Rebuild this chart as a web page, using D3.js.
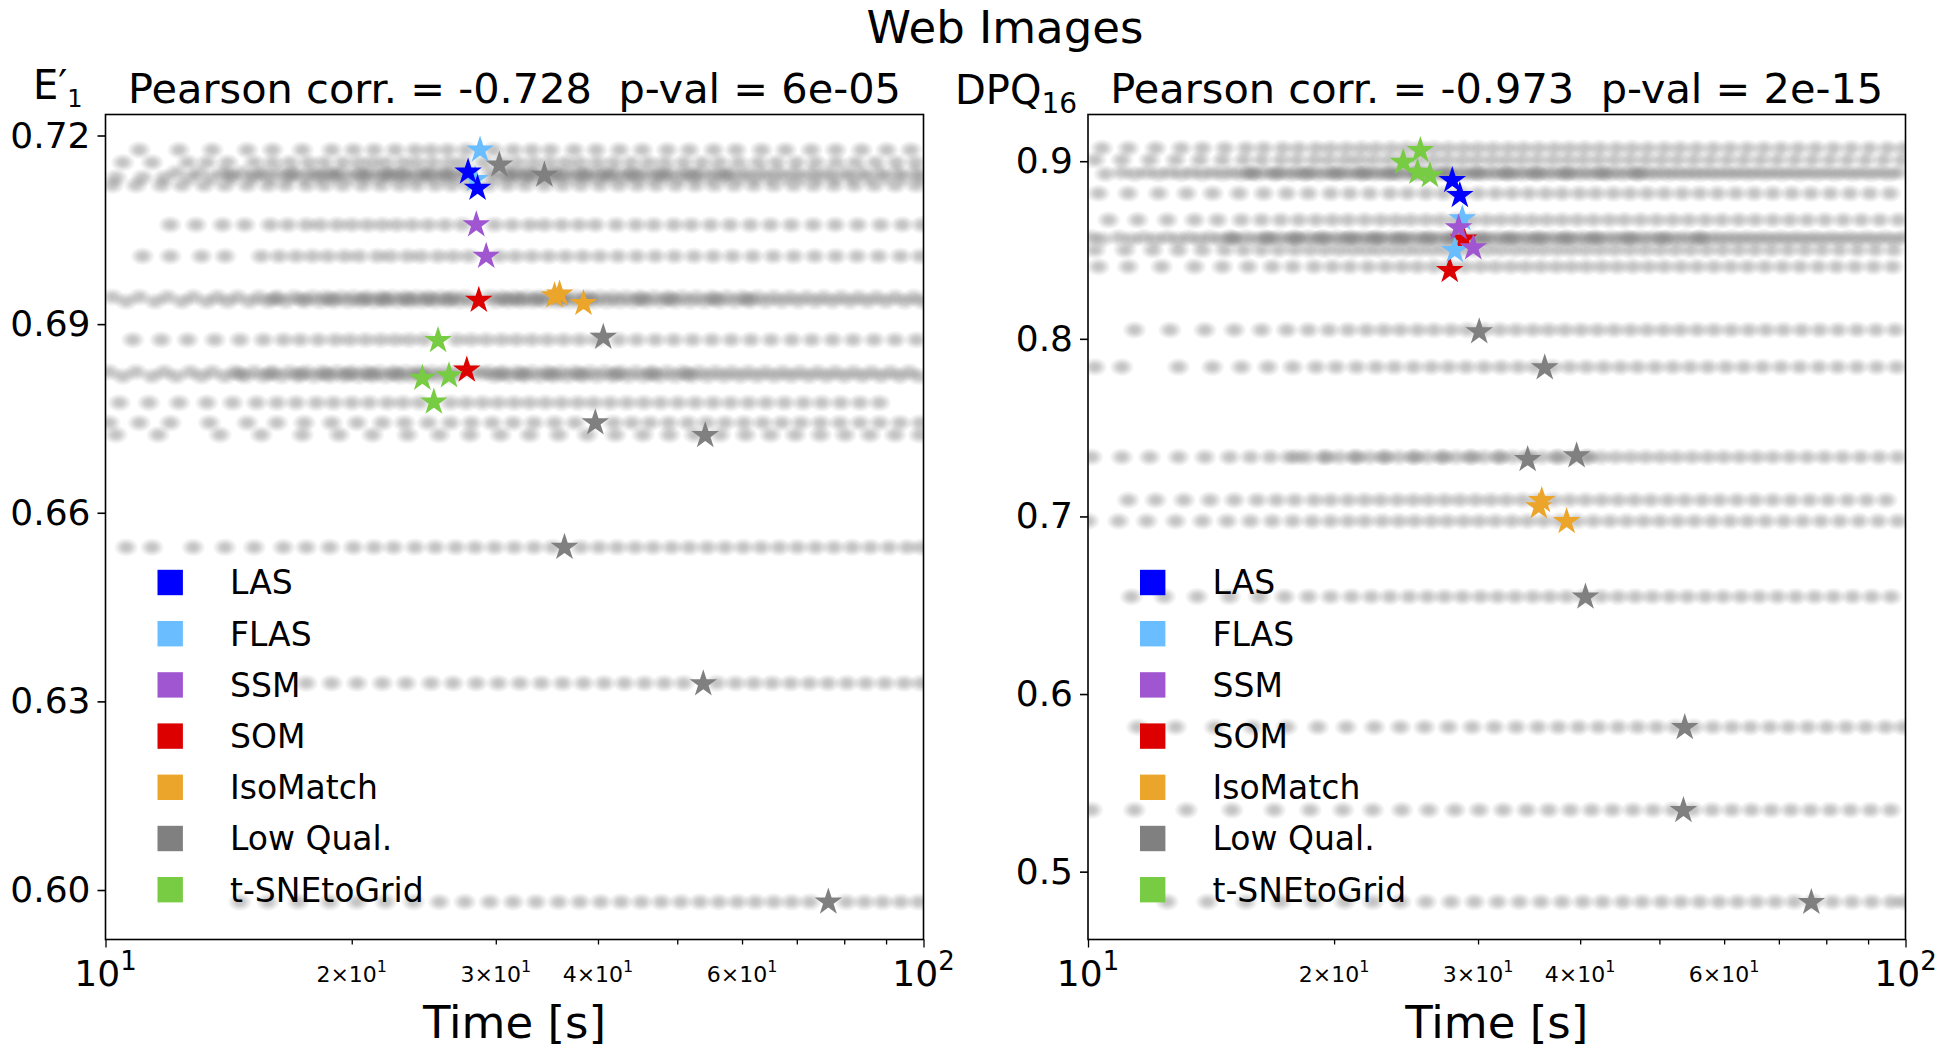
<!DOCTYPE html>
<html><head><meta charset="utf-8">
<script src="https://cdn.jsdelivr.net/npm/d3@7"></script>
<style>
body{margin:0;background:#fff}
svg{display:block}
text{font-family:"DejaVu Sans",sans-serif;fill:#000}
</style>
</head><body>
<svg id="chart" width="1945" height="1053"></svg>
<script>
// ---------------- DATA ----------------
const figureTitle = "Web Images";
const methods = ["LAS","FLAS","SSM","SOM","IsoMatch","Low Qual.","t-SNEtoGrid"];
const methodColors = ["#0000ff","#6abeff","#a056d0","#dd0000","#eba52a","#808080","#78cc44"];
const drawOrder = ["Low Qual.","IsoMatch","SOM","FLAS","SSM","LAS","t-SNEtoGrid"];

const xDomain = [10, 100];
const xTicks = [10,20,30,40,50,60,70,80,90,100];
const xMajorLabels = {10:["10","1"], 100:["10","2"]};
const xMinorLabels = {20:["2\u00d710","1"], 30:["3\u00d710","1"], 40:["4\u00d710","1"], 60:["6\u00d710","1"]};
const xLabel = "Time [s]";

// left panel (E'_1)
const leftTitle = "Pearson corr. = -0.728  p-val = 6e-05";
const leftYDomain = [0.59213, 0.72334];
const leftYTicks = [0.60, 0.63, 0.66, 0.69, 0.72];
const leftYTickLabels = ["0.60","0.63","0.66","0.69","0.72"];
const leftRowValues = [0.7177,0.7157,0.7141,0.7133,0.7121,0.7058,0.7008,0.6943,0.6936,0.6875,0.6824,0.6817,0.6775,0.6743,0.6724,0.6545,0.6329,0.5981,
                       0.7138,0.6940,0.6821];
const leftRowTimes = [
"11.0 12.3 13.5 14.9 16.0 17.4 18.9 20.1 21.3 22.6 23.9 25.0 26.2 27.6 29.8 31.5 33.2 35.0 37.4 39.8 42.5 45.3 48.6 51.7 55.4 59.0 63.4 67.8 72.9 78.1 84.0 90.2 96.5",
"10.5 11.4 12.6 13.3 14.1 15.2 16.0 16.8 17.7 18.5 19.5 20.4 21.2 22.0 23.1 24.0 25.1 26.3 27.3 29.0 30.6 31.9 33.4 34.9 36.5 38.0 39.9 41.8 43.9 46.1 48.3 50.9 53.6 56.3 59.4 62.8 66.1 69.9 73.8 78.2 82.6 87.4 92.6 97.8",
"12.2 13.0 13.9 14.7 15.6 16.3 17.0 17.8 18.7 19.4 20.3 21.0 21.8 22.5 23.3 24.2 25.0 25.9 26.8 27.7 29.6 30.8 31.7 32.8 33.9 35.1 36.3 37.6 38.9 40.4 41.9 43.6 45.3 47.2 49.0 51.1 53.3 55.6 58.1 60.7 63.5 66.4 69.6 73.1 76.4 80.3 84.1 88.5 93.0 97.9",
"10.3 11.1 11.8 12.7 13.5 14.3 15.1 15.9 16.7 17.5 18.3 19.1 19.9 20.8 21.6 22.4 23.3 24.1 25.0 26.0 27.0 30.1 31.2 32.4 33.5 34.7 36.0 37.3 38.7 40.1 41.6 43.2 44.9 46.7 48.5 50.5 52.6 54.8 57.2 59.6 62.1 64.9 67.9 71.0 74.4 77.9 81.7 85.6 89.9 94.5 99.2",
"10.2 10.9 11.7 12.4 13.2 14.0 14.9 15.8 16.6 17.6 18.5 19.5 20.6 21.7 22.9 24.0 25.3 26.5 27.8 29.4 31.0 32.6 34.4 36.2 38.1 40.2 42.4 44.7 47.1 49.8 52.6 55.5 58.7 62.0 65.6 69.4 73.4 77.7 82.3 87.1 92.4 97.9",
"12.0 12.9 13.9 14.8 15.9 16.7 17.6 18.3 19.2 20.0 20.9 21.8 22.7 23.7 24.8 26.0 27.3 29.9 31.4 33.0 34.4 36.1 37.9 39.7 42.1 44.5 46.8 49.5 52.0 54.9 58.0 61.4 65.0 68.9 73.3 78.0 83.1 88.6 94.2 99.5",
"11.1 12.0 13.1 14.0 15.5 16.3 17.1 17.9 18.7 19.6 20.4 21.5 22.3 23.4 24.3 25.5 26.6 27.8 30.3 31.7 33.2 34.8 36.5 38.3 40.2 42.3 44.6 47.0 49.6 52.4 55.3 58.4 61.8 65.5 69.4 73.6 78.1 82.9 88.1 93.7 99.0",
"10.2 11.0 11.9 12.8 13.7 14.5 15.4 16.2 17.0 17.9 18.6 19.4 20.1 20.9 21.7 22.4 23.2 24.0 24.8 25.7 26.6 27.5 29.5 30.5 31.6 32.7 33.9 35.0 36.2 37.5 38.8 40.2 41.7 43.3 45.0 46.8 48.7 50.7 52.8 55.1 57.5 60.0 62.7 65.6 68.7 72.0 75.5 79.3 83.3 87.6 92.3 97.3",
"10.6 11.5 12.4 13.3 14.1 15.0 15.8 16.6 17.5 18.3 19.0 19.8 20.5 21.3 22.0 22.8 23.6 24.4 25.3 26.2 27.1 28.1 30.0 31.1 32.2 33.3 34.5 35.7 36.9 38.2 39.5 41.0 42.5 44.2 45.9 47.8 49.7 51.8 54.0 56.3 58.8 61.3 64.1 67.1 70.3 73.8 77.4 81.3 85.4 89.9 94.8 99.6",
"10.8 11.7 12.6 13.6 14.6 15.6 16.5 17.3 18.2 19.1 19.9 20.8 21.7 22.6 23.5 24.5 26.9 28.0 29.2 30.5 31.8 33.2 34.7 36.3 38.0 39.8 42.4 44.6 47.0 49.5 52.2 55.1 58.2 61.5 65.1 69.0 73.0 77.4 82.0 87.0 92.3 98.0",
"10.1 10.9 11.8 12.7 13.5 14.4 15.2 16.0 16.8 17.6 18.4 19.2 20.0 20.8 21.6 22.5 23.3 24.1 25.0 26.0 27.0 28.2 29.4 30.6 31.9 33.2 34.6 36.0 37.5 39.1 40.8 42.6 44.5 46.5 48.6 50.8 53.2 55.7 58.3 61.1 64.1 67.3 70.6 74.2 78.0 82.1 86.4 91.1 96.0",
"10.5 11.4 12.2 13.1 14.0 14.8 15.6 16.4 17.2 18.0 18.8 19.6 20.4 21.2 22.0 22.9 23.7 24.6 25.5 26.5 29.9 31.2 32.5 33.9 35.3 36.7 38.3 39.9 41.7 43.5 45.5 47.5 49.7 52.0 54.4 57.0 59.7 62.6 65.7 68.9 72.4 76.1 80.0 84.2 88.7 93.5 98.6",
"10.4 11.3 12.3 13.3 14.3 15.3 16.2 17.1 18.1 19.0 20.0 21.0 22.1 23.1 24.2 26.4 27.6 28.9 30.2 31.6 33.0 34.5 36.1 37.8 39.5 41.4 43.4 45.5 47.7 50.1 52.6 55.3 58.1 61.1 64.2 67.6 71.3 75.1 79.2 83.6 88.3",
"10.1 11.0 12.0 13.4 14.9 16.2 17.5 18.9 20.3 21.8 23.2 24.8 26.4 28.0 29.7 31.5 33.4 35.4 37.5 41.8 44.0 46.3 48.8 51.5 54.3 57.2 60.3 63.6 67.1 70.8 74.8 79.0 83.6 88.4 93.6 99.0",
"10.3 11.6 13.8 15.5 17.4 19.3 21.2 23.4 25.6 27.9 30.4 33.0 35.8 38.8 42.0 45.4 48.9 52.5 56.4 60.6 65.0 69.7 74.8 80.2 86.0 92.3 98.9",
"10.6 11.4 12.8 14.0 15.2 16.5 17.6 18.8 20.1 21.3 22.5 23.9 25.3 26.8 28.3 29.9 31.6 33.4 35.2 38.1 40.1 42.2 44.4 46.7 49.2 51.7 54.4 57.2 60.2 63.3 66.6 70.1 73.8 77.7 81.8 86.1 90.7 95.5 99.5",
"17.6 18.9 20.3 21.8 23.3 25.0 26.6 28.4 30.2 32.1 34.1 36.2 38.4 40.7 43.1 45.6 48.2 50.9 55.9 58.9 62.0 65.3 68.8 72.5 76.4 80.6 85.0 89.7 94.7 99.3",
"14.6 15.8 17.2 18.8 20.3 22.0 23.8 25.6 27.5 29.5 31.5 33.6 35.8 38.0 40.3 42.7 45.2 47.8 50.5 53.3 56.2 59.2 62.3 65.6 69.0 72.6 80.5 84.7 89.1 93.8 98.6",
"14.2 15.3 16.9 18.2 19.0 20.6 22.1 23.0 24.7 26.1 31.4 32.9 35.6 38.4 41.0 44.1 47.9 52.1 57.0",
"16.1 17.4 18.9 20.7 21.9 23.4 24.9 26.3 30.8 32.0 33.7 36.1 38.9 45.2 49.0 55.6 61.0",
"14.6 15.9 17.3 18.6 19.8 21.1 22.6 24.3 28.9 30.4 32.3 35.0 38.0 42.1 46.6 51.5"
];
// [method, time (s), value]
const leftStars = [
["LAS",27.75,0.7142],["LAS",28.5,0.7116],
["FLAS",28.7,0.7177],["FLAS",28.3,0.7130],
["SSM",28.4,0.7058],["SSM",29.2,0.7008],
["SOM",28.6,0.6938],["SOM",27.65,0.6827],
["IsoMatch",35.4,0.6945],["IsoMatch",35.9,0.6948],["IsoMatch",38.4,0.6933],
["Low Qual.",30.3,0.7153],["Low Qual.",34.4,0.7137],["Low Qual.",40.6,0.6879],["Low Qual.",39.7,0.6743],
["Low Qual.",54.1,0.6723],["Low Qual.",36.4,0.6545],["Low Qual.",53.8,0.6328],["Low Qual.",76.5,0.5981],
["t-SNEtoGrid",25.5,0.6874],["t-SNEtoGrid",24.4,0.6814],["t-SNEtoGrid",26.3,0.6818],["t-SNEtoGrid",25.2,0.6776]
];

// right panel (DPQ_16)
const rightTitle = "Pearson corr. = -0.973  p-val = 2e-15";
const rightYDomain = [0.4618, 0.9263];
const rightYTicks = [0.5, 0.6, 0.7, 0.8, 0.9];
const rightYTickLabels = ["0.5","0.6","0.7","0.8","0.9"];
const rightRowValues = [0.9073,0.9007,0.8936,0.8928,0.8819,0.8669,0.8570,0.8561,0.8500,0.8406,0.8050,0.7841,0.7334,0.7092,0.6974,0.6548,0.5814,0.5347,0.4830,
                        0.8566,0.8932,0.7334];
const rightRowTimes = [
"10.4 11.2 12.1 13.0 13.8 14.7 15.6 16.4 17.3 18.1 19.0 19.8 20.7 21.6 22.5 23.5 24.5 25.5 26.5 27.6 28.8 30.0 31.3 32.7 34.1 35.6 37.2 38.8 40.5 42.3 44.3 46.3 48.4 50.7 53.0 55.5 58.2 61.0 64.0 67.1 70.4 73.9 77.6 81.6 85.8 90.3 95.0 99.5",
"10.2 11.0 11.9 12.8 13.7 14.6 15.5 16.3 17.2 18.0 18.9 19.7 20.6 21.4 22.3 23.3 24.3 25.3 26.4 27.5 28.7 29.9 31.2 32.5 33.9 35.4 37.0 38.6 40.3 42.1 44.0 46.0 48.1 50.3 52.6 55.1 57.7 60.5 63.4 66.5 69.7 73.2 76.9 80.8 84.9 89.3 94.0 98.9",
"11.0 11.8 12.6 13.4 14.2 15.0 15.8 16.5 17.3 18.0 18.8 19.6 20.4 21.2 22.0 22.8 23.7 24.6 25.5 26.5 27.5 28.6 29.7 30.9 32.1 33.4 34.7 36.1 37.6 39.1 40.7 42.4 44.2 46.1 48.1 50.2 52.4 54.8 57.3 60.0 62.8 65.8 69.0 72.4 76.0 79.9 84.0 88.4 93.1 98.0",
"10.5 11.4 12.2 13.0 13.8 14.6 15.4 16.1 16.9 17.7 18.4 19.2 20.0 20.8 21.6 22.4 23.2 24.1 25.0 26.0 27.0 28.0 29.1 30.3 31.5 32.7 34.0 35.4 36.8 38.3 39.9 41.5 43.3 45.1 47.1 49.1 51.3 53.6 56.0 58.6 61.4 64.3 67.4 70.7 74.2 77.9 81.9 86.2 90.7 95.5",
"10.3 11.2 12.2 13.2 14.2 15.3 16.4 17.5 18.6 19.8 20.9 22.1 23.4 24.6 25.9 27.2 28.6 30.0 31.5 33.0 34.6 36.3 38.0 39.9 41.8 43.9 46.0 48.3 50.7 53.3 56.0 58.9 62.0 65.3 68.8 72.6 76.6 80.9 85.5 90.4 95.7",
"10.6 11.5 12.5 13.5 14.4 15.4 16.3 17.2 18.1 19.0 19.9 20.8 21.8 22.8 23.8 24.8 25.9 27.0 28.2 29.4 30.7 32.0 33.4 34.9 36.4 38.0 39.7 41.5 43.4 45.3 47.4 49.6 51.9 54.3 56.9 59.6 62.5 65.5 68.8 72.2 75.8 79.7 83.9 88.3 93.0 98.0",
"10.1 10.9 11.7 12.5 13.3 14.1 14.9 15.6 16.4 17.1 17.9 18.6 19.4 20.2 21.0 21.8 22.6 23.5 24.4 25.3 26.3 27.3 28.3 29.4 30.6 31.8 33.0 34.3 35.7 37.1 38.6 40.2 41.8 43.6 45.4 47.3 49.3 51.5 53.7 56.1 58.6 61.3 64.1 67.1 70.3 73.7 77.3 81.2 85.3 89.7 94.4 99.4",
"10.4 11.3 12.1 12.9 13.7 14.5 15.2 16.0 16.7 17.5 18.2 19.0 19.8 20.6 21.4 22.2 23.0 23.9 24.8 25.8 26.8 27.8 28.9 30.0 31.2 32.4 33.7 35.0 36.4 37.9 39.4 41.0 42.7 44.5 46.4 48.3 50.4 52.6 54.9 57.3 59.9 62.7 65.6 68.7 72.0 75.5 79.2 83.2 87.5 92.0 96.9",
"10.2 11.1 12.0 12.9 13.8 14.7 15.5 16.3 17.1 17.9 18.7 19.5 20.3 21.1 21.9 22.7 23.6 24.5 25.4 26.4 27.4 28.5 29.6 30.8 32.0 33.3 34.6 36.0 37.5 39.0 40.6 42.3 44.1 46.0 48.0 50.1 52.3 54.6 57.1 59.7 62.5 65.4 68.5 71.8 75.3 79.0 83.0 87.3 91.8 96.7",
"10.3 11.2 12.3 13.5 14.6 15.7 16.8 17.8 18.9 19.9 20.9 22.0 23.1 24.2 25.3 26.5 27.7 28.9 30.2 31.5 32.9 34.3 35.8 37.4 39.0 40.7 42.5 44.4 46.4 48.5 50.7 53.1 55.6 58.3 61.1 64.1 67.3 70.7 74.3 78.2 82.3 86.7 91.4 96.4",
"11.4 12.6 13.9 15.1 16.3 17.5 18.6 19.7 20.8 21.9 23.0 24.1 25.3 26.5 27.8 29.1 30.5 31.9 33.4 35.0 36.6 38.3 40.1 42.0 44.0 46.1 48.3 50.6 53.0 55.6 58.3 61.2 64.3 67.5 70.9 74.6 78.5 82.7 87.2 92.0 97.1",
"10.2 11.0 12.9 14.2 15.4 16.6 17.8 19.0 20.1 21.3 22.5 23.7 25.0 26.3 27.6 29.0 30.5 32.0 33.6 35.2 37.0 38.8 40.7 42.7 44.8 47.0 49.4 51.9 54.5 57.3 60.3 63.4 66.8 70.4 74.2 78.3 82.6 87.2 92.2 97.5",
"10.1 11.0 11.9 12.9 13.9 14.9 15.8 16.7 17.6 18.5 19.4 20.3 21.2 22.1 23.0 24.0 25.0 26.0 27.1 28.2 29.3 30.5 31.8 33.1 34.5 35.9 37.4 39.0 40.7 42.4 44.2 46.1 48.1 50.2 52.4 54.8 57.3 59.9 62.7 65.7 68.8 72.2 75.8 79.6 83.7 88.1 92.8 97.8",
"11.2 12.1 13.1 14.1 15.1 16.1 17.0 17.9 18.9 19.8 20.8 21.8 22.8 23.9 25.0 26.1 27.3 28.5 29.8 31.1 32.5 34.0 35.5 37.1 38.8 40.6 42.5 44.5 46.6 48.8 51.2 53.7 56.4 59.2 62.2 65.4 68.8 72.4 76.3 80.4 84.9 89.6 94.7",
"10.0 10.9 11.8 12.8 13.8 14.8 15.8 16.8 17.8 18.8 19.8 20.8 21.8 22.9 24.0 25.1 26.3 27.5 28.8 30.1 31.5 33.0 34.5 36.1 37.8 39.6 41.5 43.5 45.6 47.8 50.1 52.6 55.2 58.0 61.0 64.1 67.4 71.0 74.8 78.8 83.1 87.7 92.6 97.8",
"11.3 12.4 13.6 14.9 16.2 17.4 18.6 19.8 21.0 22.2 23.4 24.7 26.0 27.3 28.7 30.2 31.7 33.3 35.0 36.7 38.5 40.4 42.4 44.5 46.7 49.0 51.5 54.1 56.9 59.8 62.9 66.2 69.7 73.4 77.4 81.6 86.1 90.9 96.0",
"11.5 12.8 14.3 15.9 17.5 19.1 20.7 22.4 24.1 25.8 27.6 29.5 31.4 33.4 35.5 37.6 39.8 42.1 44.5 47.0 49.6 52.3 55.1 58.1 61.3 64.6 68.2 71.9 75.9 80.1 84.6 89.4 94.5 99.3",
"10.1 11.4 13.2 15.0 16.9 18.7 20.5 22.3 24.2 26.1 28.1 30.1 32.2 34.4 36.6 38.9 41.3 43.8 46.4 49.1 51.9 54.9 58.0 61.3 64.8 68.5 72.4 76.5 80.9 85.6 90.6 95.9",
"12.5 14.0 15.6 17.2 18.9 20.6 22.3 24.1 25.9 27.8 29.7 31.7 33.7 35.8 38.0 40.3 42.6 45.1 47.6 50.3 53.1 56.0 59.1 62.3 65.7 69.3 73.1 77.1 81.4 86.0 90.9 96.1 99.6",
"15.0 16.6 17.9 19.3 20.9 22.5 24.1 26.0 27.9 30.3 32.8 35.5 38.4 41.7 45.9 50.5 56.0",
"15.8 17.0 18.5 20.1 21.7 23.5 25.3 27.4 29.9 32.6 35.3 38.5 42.6 47.0",
"18.0 19.6 21.3 23.1 25.1 27.2 29.5 31.9 34.6 37.6 40.9"
];
const rightStars = [
["LAS",27.9,0.8891],["LAS",28.5,0.8807],
["FLAS",28.7,0.8676],["FLAS",28.1,0.8497],
["SSM",28.4,0.8625],["SSM",29.6,0.8513],
["SOM",28.8,0.8562],["SOM",27.7,0.8385],
["IsoMatch",35.9,0.7090],["IsoMatch",35.6,0.7055],["IsoMatch",38.5,0.6971],
["Low Qual.",30.1,0.8040],["Low Qual.",36.2,0.7837],["Low Qual.",34.5,0.7320],["Low Qual.",39.6,0.7342],
["Low Qual.",40.6,0.6546],["Low Qual.",53.7,0.5812],["Low Qual.",53.5,0.5344],["Low Qual.",76.7,0.4827],
["t-SNEtoGrid",24.3,0.8994],["t-SNEtoGrid",25.5,0.9060],["t-SNEtoGrid",25.3,0.8938],["t-SNEtoGrid",26.2,0.8920]
];

// ---------------- DRAWING ----------------
const svg = d3.select("#chart");
const color = d3.scaleOrdinal().domain(methods).range(methodColors);
const defs = svg.append("defs");
// soft-edged dot (blurred look) via radial gradient
const grad = defs.append("radialGradient").attr("id","softDot");
[[0,0.46],[0.35,0.38],[0.7,0.16],[1,0]].forEach(([o,a])=>
  grad.append("stop").attr("offset",o).attr("stop-color","#787878").attr("stop-opacity",a));

function starPath(R){
  const r = R*0.381966, pts=[];
  for(let i=0;i<10;i++){
    const a = -Math.PI/2 + i*Math.PI/5, rr = i%2===0?R:r;
    pts.push([rr*Math.cos(a), rr*Math.sin(a)]);
  }
  return "M"+pts.map(p=>p[0].toFixed(2)+","+p[1].toFixed(2)).join("L")+"Z";
}
const STAR = starPath(14.5);

svg.append("text").attr("x",1005).attr("y",43).attr("text-anchor","middle")
  .attr("font-size",45).text(figureTitle);

const panels = [
  {id:"L", x0:105.5, x1:923.5, title:leftTitle, yDomain:leftYDomain, yTicks:leftYTicks, yTickLabels:leftYTickLabels,
   rowValues:leftRowValues, rowTimes:leftRowTimes, stars:leftStars, ylab:"E"},
  {id:"R", x0:1088, x1:1905.5, title:rightTitle, yDomain:rightYDomain, yTicks:rightYTicks, yTickLabels:rightYTickLabels,
   rowValues:rightRowValues, rowTimes:rightRowTimes, stars:rightStars, ylab:"DPQ"}
];
const Y0 = 114.5, Y1 = 939.5;

panels.forEach(p=>{
  const x = d3.scaleLog().domain(xDomain).range([p.x0,p.x1]);
  const y = d3.scaleLinear().domain(p.yDomain).range([Y1,Y0]);
  const g = svg.append("g");
  const clipId = "clip"+p.id;
  defs.append("clipPath").attr("id",clipId).append("rect")
    .attr("x",p.x0).attr("y",Y0).attr("width",p.x1-p.x0).attr("height",Y1-Y0);

  // background runs (soft translucent dots)
  const dots = [];
  p.rowValues.forEach((v,i)=>{
    p.rowTimes[i].trim().split(/\s+/).map(Number).forEach(t=>dots.push([t,v]));
  });
  g.append("g").attr("clip-path",`url(#${clipId})`)
   .selectAll("ellipse").data(dots).join("ellipse")
    .attr("cx",d=>x(d[0])).attr("cy",d=>y(d[1])).attr("rx",12.5).attr("ry",9.5)
    .attr("fill","url(#softDot)");

  // stars
  const stars = p.stars.slice().sort((a,b)=>drawOrder.indexOf(a[0])-drawOrder.indexOf(b[0]));
  g.append("g").selectAll("path").data(stars).join("path")
    .attr("d",STAR).attr("transform",d=>`translate(${x(d[1])},${y(d[2])})`)
    .attr("fill",d=>color(d[0]));

  // frame
  g.append("rect").attr("x",p.x0).attr("y",Y0).attr("width",p.x1-p.x0).attr("height",Y1-Y0)
    .attr("fill","none").attr("stroke","#000").attr("stroke-width",1.6);

  // y axis
  const ya = g.append("g").attr("transform",`translate(${p.x0},0)`)
    .call(d3.axisLeft(y).tickValues(p.yTicks).tickSize(8).tickPadding(7)
      .tickFormat((d,i)=>p.yTickLabels[i]));
  ya.select(".domain").remove();
  ya.selectAll(".tick line").attr("stroke","#000").attr("stroke-width",1.6);
  ya.selectAll(".tick text").attr("font-size",36).attr("font-family","DejaVu Sans").attr("fill","#000");

  // x axis
  const xa = g.append("g").attr("transform",`translate(0,${Y1})`)
    .call(d3.axisBottom(x).tickValues(xTicks).tickSize(5).tickFormat(""));
  xa.select(".domain").remove();
  xa.selectAll(".tick line").attr("stroke","#000").attr("stroke-width",1.3)
    .attr("y2",d=>xMajorLabels[d]?8:5);
  xa.selectAll(".tick text").remove();
  xTicks.forEach(t=>{
    if(xMajorLabels[t]){
      const tx = g.append("text").attr("x",x(t)).attr("y",Y1+46).attr("text-anchor","middle").attr("font-size",36);
      tx.append("tspan").text(xMajorLabels[t][0]);
      tx.append("tspan").attr("font-size",26).attr("dy",-16).text(xMajorLabels[t][1]);
    } else if(xMinorLabels[t]){
      const tx = g.append("text").attr("x",x(t)).attr("y",Y1+42).attr("text-anchor","middle").attr("font-size",22);
      tx.append("tspan").text(xMinorLabels[t][0]);
      tx.append("tspan").attr("font-size",16).attr("dy",-10).text(xMinorLabels[t][1]);
    }
  });
  g.append("text").attr("x",(p.x0+p.x1)/2).attr("y",1038).attr("text-anchor","middle")
    .attr("font-size",45).text(xLabel);

  // title
  g.append("text").attr("x",(p.x0+p.x1)/2).attr("y",103).attr("text-anchor","middle")
    .attr("font-size",41.5).style("white-space","pre").text(p.title);

  // y label (horizontal, top-left)
  if(p.ylab==="E"){
    const t = g.append("text").attr("x",33).attr("y",99).attr("font-size",40);
    t.append("tspan").text("E\u2032");
    t.append("tspan").attr("font-size",24).attr("dy",8).text("1");
  } else {
    const t = g.append("text").attr("x",955).attr("y",104).attr("font-size",40);
    t.append("tspan").text("DPQ");
    t.append("tspan").attr("font-size",28).attr("dy",9).text("16");
  }

  // legend
  const lg = g.append("g");
  methods.forEach((m,i)=>{
    const cy = 582.5 + i*51.2;
    lg.append("rect").attr("x",p.x0+52).attr("y",cy-12.7).attr("width",25.4).attr("height",25.4).attr("fill",color(m));
    lg.append("text").attr("x",p.x0+124.5).attr("y",cy).attr("dy","0.36em").attr("font-size",33).text(m);
  });
});
</script>
</body></html>
